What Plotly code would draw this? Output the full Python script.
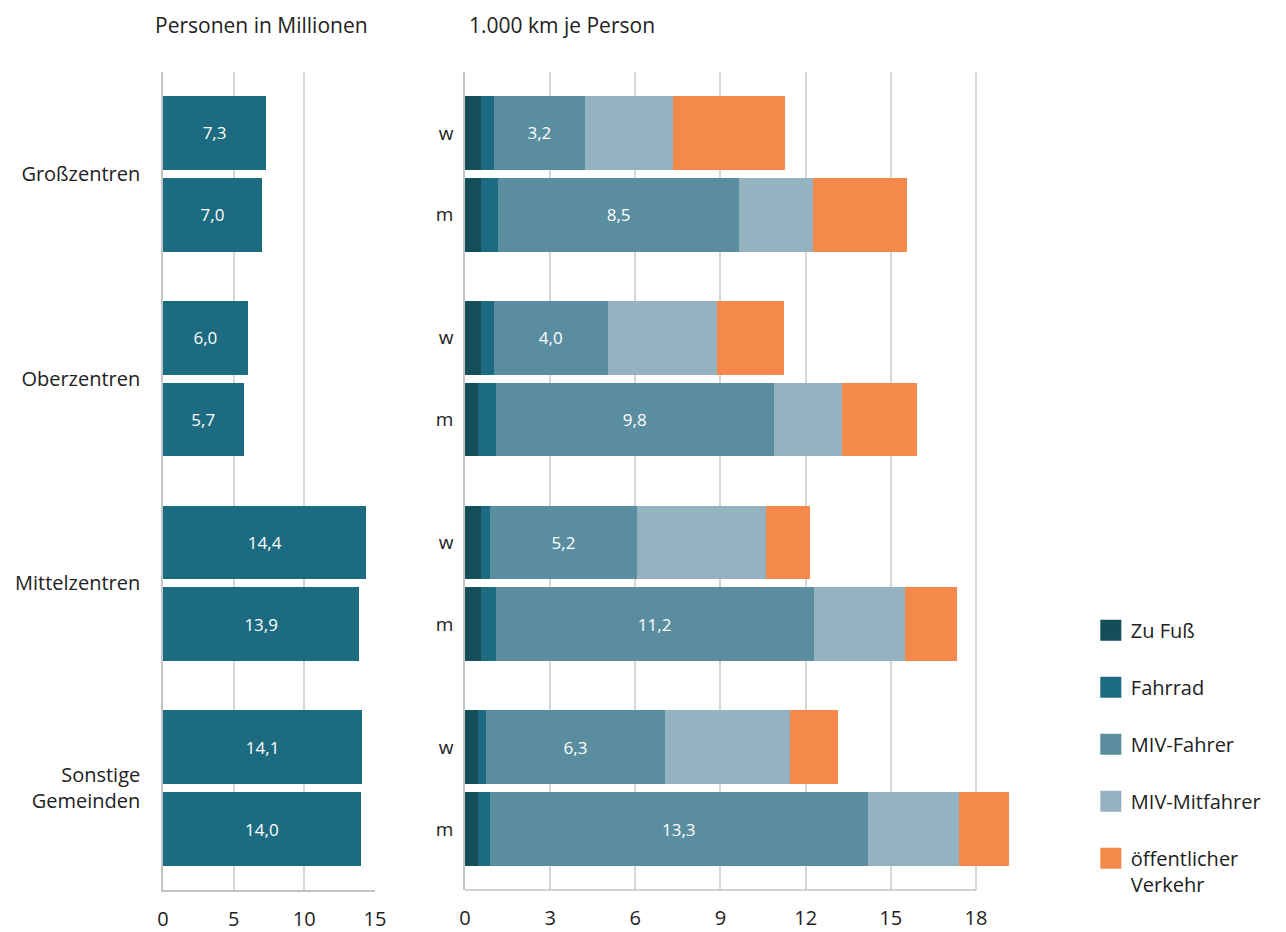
import plotly.graph_objects as go

# ---------------- data ----------------
regions = ["Großzentren", "Oberzentren", "Mittelzentren", "Sonstige<br>Gemeinden"]
sexes = ["w", "m"]

persons_w = [7.3, 6.0, 14.4, 14.1]
persons_m = [7.0, 5.7, 13.9, 14.0]

zu_fuss_w = [0.56, 0.56, 0.56, 0.47]
zu_fuss_m = [0.56, 0.46, 0.56, 0.47]
fahrrad_w = [0.46, 0.46, 0.31, 0.27]
fahrrad_m = [0.60, 0.62, 0.52, 0.41]
miv_fahrer_w = [3.2, 4.0, 5.2, 6.3]
miv_fahrer_m = [8.5, 9.8, 11.2, 13.3]
miv_mitfahrer_w = [3.10, 3.86, 4.55, 4.40]
miv_mitfahrer_m = [2.60, 2.40, 3.23, 3.23]
oev_w = [3.94, 2.36, 1.54, 1.70]
oev_m = [3.31, 2.66, 1.82, 1.76]

x_ticks_left = [0, 5, 10, 15]
x_ticks_right = [0, 3, 6, 9, 12, 15, 18]

modes = [
    ("Zu Fuß", zu_fuss_w, zu_fuss_m, "#134e59"),
    ("Fahrrad", fahrrad_w, fahrrad_m, "#1d6b80"),
    ("MIV-Fahrer", miv_fahrer_w, miv_fahrer_m, "#5a8d9f"),
    ("MIV-Mitfahrer", miv_mitfahrer_w, miv_mitfahrer_m, "#94b2bf"),
    ("öffentlicher<br>Verkehr", oev_w, oev_m, "#f4894b"),
]

# ---------------- layout helpers ----------------
GROUP_STEP = 2.5
ypos, ylab = [], []
for g in range(len(regions)):
    for s, sx in enumerate(sexes):
        ypos.append(g * GROUP_STEP + s)
        ylab.append(sx)
group_centers = [g * GROUP_STEP + 0.5 for g in range(len(regions))]


def interleave(a, b):
    out = []
    for u, v in zip(a, b):
        out += [u, v]
    return out


FONT = "Open Sans"
TXT = "#222222"
GRID = "#d6d6d6"
AXLINE = "#c4c4c4"

fig = go.Figure()

# left panel: persons
fig.add_trace(go.Bar(
    x=interleave(persons_w, persons_m), y=ypos, orientation="h",
    width=0.9, marker=dict(color="#1d6b80", line=dict(width=0)),
    texttemplate="%{x:.1f}", textposition="inside", insidetextanchor="middle",
    textfont=dict(color="white", size=17, family=FONT),
    showlegend=False, xaxis="x", yaxis="y", hoverinfo="skip",
))

# right panel: km per person
for name, vw, vm, col in modes:
    vals = interleave(vw, vm)
    if name == "MIV-Fahrer":
        kw = dict(texttemplate="%{x:.1f}", textposition="inside",
                  insidetextanchor="middle",
                  textfont=dict(color="white", size=17, family=FONT))
    else:
        kw = dict(textposition="none")
    fig.add_trace(go.Bar(
        x=vals, y=ypos, orientation="h", width=0.9,
        marker=dict(color=col, line=dict(width=0)),
        showlegend=False, xaxis="x2", yaxis="y2", hoverinfo="skip", **kw,
    ))

# legend entries
for name, vw, vm, col in modes:
    fig.add_trace(go.Scatter(
        x=[None], y=[None], mode="markers", name=name, legendgroup=name,
        marker=dict(symbol="square", size=16, color=col, line=dict(color=col, width=5)),
        xaxis="x2", yaxis="y2",
    ))

yrange = [ypos[-1] + 0.744, -0.744]

L, R, T, B = 163, 0, 72, 40
W, H = 1286, 932
PW = W - L - R


def px2dom(p):
    return (p - L) / PW


right_max = 19.3
right_scale = (984 - 468) / 18.0

fig.update_layout(
    width=W, height=H,
    margin=dict(l=L, r=R, t=T, b=B),
    paper_bgcolor="white", plot_bgcolor="white",
    barmode="stack",
    separators=",.",
    font=dict(family=FONT, color=TXT, size=18),
    xaxis=dict(
        domain=[0, px2dom(377)], range=[0, 15], tickvals=x_ticks_left,
        showgrid=True, gridcolor=GRID, gridwidth=1.5, zeroline=False,
        showline=True, linecolor=AXLINE, linewidth=1.5,
        ticks="outside", ticklen=10, tickcolor="rgba(0,0,0,0)",
        tickfont=dict(size=20, color=TXT), fixedrange=True,
    ),
    yaxis=dict(
        range=yrange, tickvals=group_centers, ticktext=regions,
        showgrid=False, zeroline=False, showline=True, linecolor=AXLINE, linewidth=1.5,
        ticks="outside", ticklen=17, tickcolor="rgba(0,0,0,0)",
        tickfont=dict(size=20, color=TXT), anchor="x",
    ),
    xaxis2=dict(
        domain=[px2dom(468), px2dom(468 + right_max * right_scale)],
        range=[0, right_max], tickvals=x_ticks_right, anchor="y2",
        showgrid=True, gridcolor=GRID, gridwidth=1.5, zeroline=False,
        showline=False,
        ticks="outside", ticklen=10, tickcolor="rgba(0,0,0,0)",
        tickfont=dict(size=20, color=TXT),
    ),
    yaxis2=dict(
        range=yrange, tickvals=ypos, ticktext=ylab, anchor="x2",
        showgrid=False, zeroline=False, showline=True, linecolor=AXLINE, linewidth=1.5,
        ticks="outside", ticklen=6, tickcolor="rgba(0,0,0,0)",
        tickfont=dict(size=19, color=TXT),
    ),
    legend=dict(
        x=px2dom(1100), xanchor="left", y=(892 - 612) / 820, yanchor="top",
        font=dict(size=20, color=TXT, family=FONT),
        tracegroupgap=28, traceorder="grouped", valign="top",
        bgcolor="rgba(0,0,0,0)", itemclick=False,
    ),
    annotations=[
        dict(text="Personen in Millionen", x=153, y=25, xref="paper", yref="paper",
             showarrow=False, xanchor="left", yanchor="middle",
             font=dict(size=21, color=TXT, family=FONT)),
        dict(text="1.000 km je Person", x=470, y=25, xref="paper", yref="paper",
             showarrow=False, xanchor="left", yanchor="middle",
             font=dict(size=21, color=TXT, family=FONT)),
    ],
    shapes=[
        dict(type="line", xref="x2", yref="y2 domain", x0=0, x1=18, y0=0, y1=0,
             line=dict(color=AXLINE, width=1.5)),
    ],
)

# convert title annotation positions from pixels to paper coords
anns = list(fig.layout.annotations)
for a in anns:
    a.x = (a.x - L) / PW
    a.y = (H - a.y - B) / (H - T - B)
fig.layout.annotations = anns

fig.write_html(
    "out.html",
    config={"displayModeBar": False, "responsive": False},
    post_script="document.body.style.margin='0px';document.body.style.overflow='hidden';",
)
